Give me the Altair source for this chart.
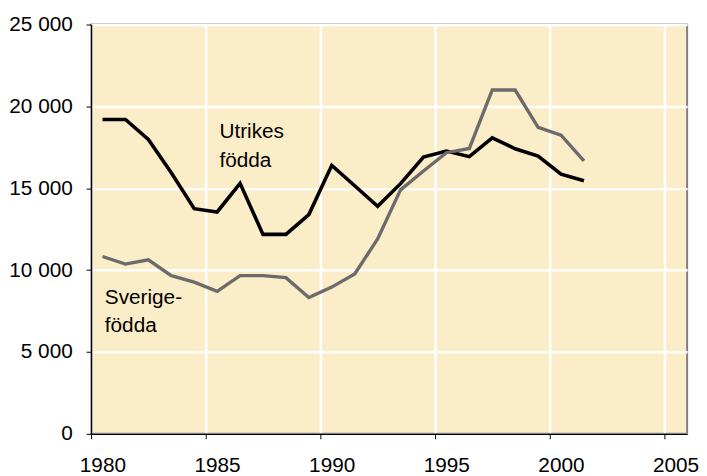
import altair as alt
import pandas as pd

years = [1980.5 + i for i in range(22)]
utrikes = [19200, 19200, 17980, 15950, 13750, 13550, 15300, 12180, 12180, 13390,
           16400, 15150, 13900, 15280, 16900, 17270, 16930, 18080, 17410, 16970,
           15860, 15460]
sverige = [10830, 10370, 10630, 9660, 9260, 8700, 9660, 9660, 9540, 8330,
           8960, 9760, 11900, 14900, 16050, 17170, 17430, 21000, 21000, 18720,
           18240, 16670]

label_text = ["Utrikes", "födda", "Sverige-", "födda"]
label_x = [1985.6, 1985.6, 1980.6, 1980.6]
label_y = [18050, 16300, 7950, 6200]

df = pd.DataFrame({
    "year": years * 2,
    "value": utrikes + sverige,
    "series": ["Utrikes födda"] * len(years) + ["Sverigefödda"] * len(years),
})
labels = pd.DataFrame({"text": label_text, "x": label_x, "y": label_y})

FONT = "Liberation Sans"
FS = 21

xscale = alt.Scale(domain=[1980, 2006], nice=False, zero=False)
yscale = alt.Scale(domain=[0, 25000], nice=False)

xaxis = alt.Axis(values=[1980, 1985, 1990, 1995, 2000, 2005], format="d", title=None,
                 grid=True, gridColor="white", gridWidth=2.5,
                 domainColor="black", domainWidth=1.5, tickColor="black", tickSize=5,
                 labelFont=FONT, labelFontSize=FS, labelColor="black", labelPadding=16,
                 labelOffset=11.5, labelFlush=False)
yaxis = alt.Axis(values=[0, 5000, 10000, 15000, 20000, 25000], title=None,
                 labelExpr="datum.value >= 1000 ? floor(datum.value/1000) + ' 000' : '0'",
                 grid=True, gridColor="white", gridWidth=2.5,
                 domainColor="black", domainWidth=1.5, tickColor="black", tickSize=5,
                 labelFont=FONT, labelFontSize=FS, labelColor="black", labelPadding=14)

base = alt.Chart(df)
black = base.transform_filter(alt.datum.series == "Utrikes födda").mark_line(
    color="black", strokeWidth=3.6, strokeJoin="miter").encode(
    x=alt.X("year:Q", scale=xscale, axis=xaxis),
    y=alt.Y("value:Q", scale=yscale, axis=yaxis),
)
gray = base.transform_filter(alt.datum.series == "Sverigefödda").mark_line(
    color="#6b6b6b", strokeWidth=3.4, strokeJoin="miter").encode(
    x=alt.X("year:Q", scale=xscale),
    y=alt.Y("value:Q", scale=yscale),
)
text = alt.Chart(labels).mark_text(align="left", baseline="alphabetic", font=FONT,
                                   fontSize=FS, color="black").encode(
    x=alt.X("x:Q", scale=xscale),
    y=alt.Y("y:Q", scale=yscale),
    text="text:N",
)

chart = alt.layer(black, gray, text).properties(
    width=603, height=414, padding={"left": 0, "top": 3, "right": 0, "bottom": 0},
    background="white"
).configure_view(
    fill="#FCEDC9", stroke="#7f7f7f", strokeWidth=2
)

chart.save("out.html", embed_options={"renderer": "svg", "actions": False})
